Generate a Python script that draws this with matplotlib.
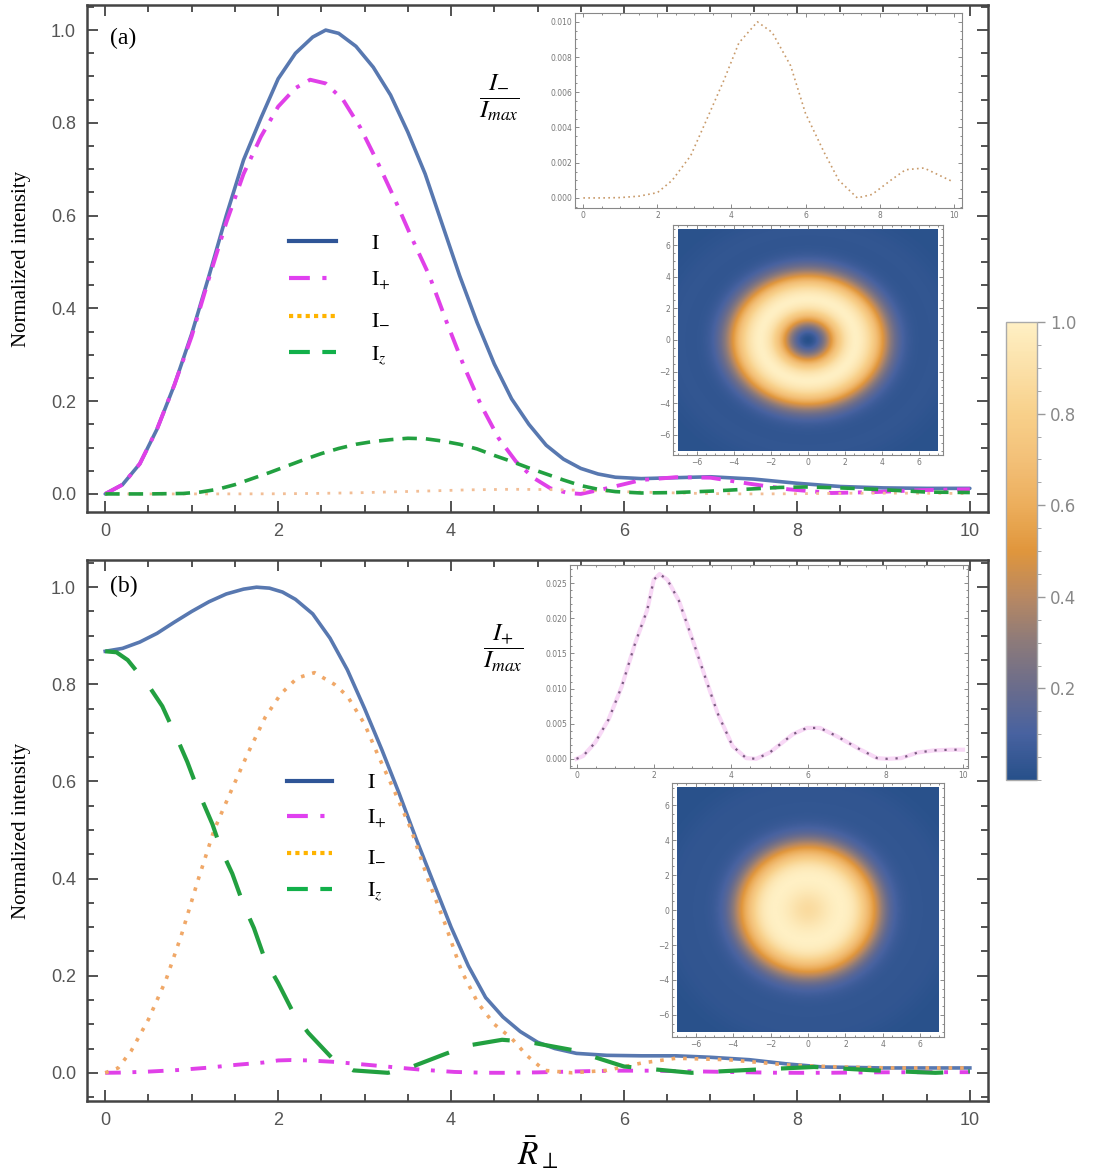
import numpy as np
import matplotlib
matplotlib.use('Agg')
import matplotlib.pyplot as plt
from matplotlib.colors import LinearSegmentedColormap
from matplotlib.lines import Line2D
from matplotlib.ticker import MultipleLocator, FormatStrFormatter

plt.rcParams['mathtext.fontset'] = 'stix'

# ---- panel (a) ----
xa_I = [0, 0.2, 0.4, 0.6, 0.8, 1.0, 1.2, 1.4, 1.6, 1.8, 2.0, 2.2, 2.4, 2.55, 2.7, 2.9, 3.1,
        3.3, 3.5, 3.7, 3.9, 4.1, 4.3, 4.5, 4.7, 4.9, 5.1, 5.3, 5.5, 5.7, 5.9, 6.2, 6.6, 7.0,
        7.5, 8.0, 8.5, 9.0, 9.5, 10.0]
Ia = [0.0, 0.02, 0.065, 0.14, 0.235, 0.345, 0.47, 0.60, 0.72, 0.81, 0.895, 0.95, 0.985, 1.0,
      0.993, 0.965, 0.92, 0.86, 0.78, 0.69, 0.58, 0.47, 0.37, 0.28, 0.205, 0.15, 0.105, 0.075,
      0.055, 0.043, 0.036, 0.033, 0.035, 0.037, 0.032, 0.023, 0.016, 0.013, 0.012, 0.012]

xa_p = [0, 0.2, 0.4, 0.6, 0.8, 1.0, 1.2, 1.4, 1.6, 1.8, 2.0, 2.2, 2.37, 2.55, 2.75, 2.95,
        3.15, 3.35, 3.55, 3.75, 3.95, 4.15, 4.35, 4.55, 4.75, 4.95, 5.15, 5.35, 5.5, 5.8, 6.2,
        6.6, 7.0, 7.45, 7.9, 8.4, 8.9, 9.4, 10.0]
Ia_plus = [0.0, 0.02, 0.065, 0.14, 0.235, 0.34, 0.465, 0.585, 0.69, 0.77, 0.835, 0.875, 0.893,
           0.885, 0.85, 0.79, 0.715, 0.635, 0.55, 0.47, 0.37, 0.275, 0.19, 0.12, 0.07, 0.035,
           0.012, 0.002, 0.0, 0.012, 0.03, 0.036, 0.035, 0.022, 0.01, 0.002, 0.004, 0.008, 0.01]

xa_m = [0, 0.5, 1.0, 1.5, 2.0, 2.4, 2.9, 3.3, 3.8, 4.2, 4.7, 5.1, 5.6, 6.0, 6.5, 6.9, 7.4,
        7.8, 8.3, 8.7, 9.2, 9.6, 10.0]
Ia_minus = [0.0, 0.0, 0.00002, 0.0001, 0.0003, 0.001, 0.0024, 0.0043, 0.0067, 0.0088, 0.0100,
            0.0094, 0.0075, 0.0048, 0.0026, 0.0010, 0.0000, 0.0002, 0.0010, 0.0016, 0.0017,
            0.0013, 0.0009]

xa_z = [0, 0.5, 0.9, 1.1, 1.3, 1.5, 1.7, 1.9, 2.1, 2.3, 2.5, 2.7, 2.9, 3.1, 3.3, 3.5, 3.7,
        3.9, 4.1, 4.3, 4.5, 4.7, 4.9, 5.1, 5.3, 5.5, 5.7, 5.9, 6.2, 6.6, 7.0, 7.4, 7.8, 8.1,
        8.5, 8.9, 9.5, 10.0]
Ia_z = [0.0, 0.0, 0.001, 0.004, 0.01, 0.02, 0.033, 0.046, 0.06, 0.074, 0.087, 0.098, 0.107,
        0.113, 0.117, 0.12, 0.119, 0.114, 0.107, 0.097, 0.083, 0.07, 0.056, 0.043, 0.03, 0.018,
        0.01, 0.005, 0.002, 0.003, 0.006, 0.01, 0.014, 0.015, 0.013, 0.01, 0.004, 0.003]

# ---- panel (b) ----
xb_I = [0, 0.2, 0.4, 0.6, 0.8, 1.0, 1.2, 1.4, 1.6, 1.75, 1.9, 2.05, 2.2, 2.4, 2.6, 2.8, 3.0,
        3.2, 3.4, 3.6, 3.8, 4.0, 4.2, 4.4, 4.6, 4.8, 5.0, 5.2, 5.45, 5.8, 6.2, 6.6, 7.0, 7.45,
        7.9, 8.3, 9.0, 10.0]
Ib = [0.868, 0.874, 0.887, 0.905, 0.928, 0.95, 0.97, 0.986, 0.996, 1.0, 0.998, 0.99, 0.975,
      0.945, 0.895, 0.83, 0.75, 0.665, 0.575, 0.48, 0.39, 0.30, 0.22, 0.155, 0.115, 0.085,
      0.063, 0.05, 0.04, 0.036, 0.035, 0.035, 0.032, 0.027, 0.018, 0.012, 0.01, 0.01]

xb_p = [0, 0.17, 0.48, 0.83, 1.17, 1.52, 1.83, 2.0, 2.15, 2.35, 2.65, 3.0, 3.35, 3.65, 4.04,
        4.39, 4.65, 5.0, 5.6, 5.96, 6.3, 6.74, 7.35, 7.78, 8.04, 8.4, 8.83, 9.26, 9.7, 10.0]
Ib_plus = [0.0, 0.0004, 0.0023, 0.0056, 0.0103, 0.0165, 0.0212, 0.0255, 0.0263, 0.0255, 0.0225,
           0.017, 0.0113, 0.0065, 0.0018, 0.0001, 0.0, 0.0009, 0.0035, 0.0044, 0.0044, 0.0032,
           0.0013, 0.0001, 0.0, 0.0001, 0.0009, 0.0012, 0.0013, 0.0013]

xb_m = [0, 0.15, 0.3, 0.5, 0.7, 0.88, 1.07, 1.26, 1.45, 1.65, 1.85, 2.03, 2.22, 2.42, 2.65, 2.8,
        3.0, 3.16, 3.35, 3.54, 3.74, 3.93, 4.12, 4.31, 4.5, 4.7, 4.88, 5.08, 5.4, 5.8, 6.2, 6.6,
        7.2, 7.9, 8.5, 9.1, 10.0]
Ib_minus = [0.0, 0.01, 0.045, 0.11, 0.19, 0.283, 0.395, 0.50, 0.578, 0.658, 0.732, 0.78, 0.813,
            0.824, 0.80, 0.776, 0.718, 0.652, 0.578, 0.50, 0.395, 0.307, 0.21, 0.144, 0.10,
            0.071, 0.035, 0.005, 0.0, 0.005, 0.02, 0.03, 0.027, 0.016, 0.012, 0.01, 0.01]

xb_z = [0, 0.13, 0.26, 0.51, 0.66, 0.84, 0.95, 1.09, 1.24, 1.34, 1.47, 1.6, 1.72, 1.85, 2.0,
        2.18, 2.35, 2.62, 2.87, 3.27, 3.54, 3.92, 4.19, 4.59, 4.88, 5.4, 6.0, 6.78, 7.45, 8.2,
        8.9, 9.6, 10.0]
Ib_z = [0.868, 0.866, 0.85, 0.795, 0.755, 0.685, 0.64, 0.574, 0.512, 0.46, 0.41, 0.346, 0.298,
        0.232, 0.185, 0.122, 0.082, 0.031, 0.005, 0.0, 0.012, 0.038, 0.056, 0.068, 0.064, 0.047,
        0.013, 0.0, 0.006, 0.012, 0.005, 0.0, 0.003]

# colour scale of the density insets
cmap_colors = ['#27508a', '#4862a0', '#6a6c8c', '#8c7a7a', '#b88862', '#e0963c',
               '#ecae5c', '#f3c078', '#f8d08a', '#fbe0a8', '#fff0c4']
cmap = LinearSegmentedColormap.from_list('sunset', cmap_colors)

c_blue = '#5878b0'
c_mag = '#e040e8'
c_orange = '#f0a868'
c_green = '#22a040'
gray = '#555555'

fig = plt.figure(figsize=(10.95, 11.73), dpi=100)


def style_main(ax, ylim):
    ax.set_xlim(-0.21, 10.21)
    ax.set_ylim(*ylim)
    ax.xaxis.set_major_locator(MultipleLocator(2))
    ax.xaxis.set_minor_locator(MultipleLocator(0.5))
    ax.yaxis.set_major_locator(MultipleLocator(0.2))
    ax.yaxis.set_minor_locator(MultipleLocator(0.05))
    ax.tick_params(which='both', direction='in', top=True, right=True, colors='#444444',
                   labelcolor=gray, labelsize=13, width=1.3)
    ax.tick_params(which='major', length=8, pad=8)
    ax.tick_params(which='minor', length=5)
    for lab in ax.get_xticklabels() + ax.get_yticklabels():
        lab.set_fontfamily('Liberation Sans')
    ax.yaxis.set_major_formatter(FormatStrFormatter('%.1f'))
    for s in ax.spines.values():
        s.set_color('#444444')
        s.set_linewidth(1.8)
    ax.set_ylabel('Normalized intensity', family='Liberation Serif', fontsize=15, labelpad=14)


def style_inset(ax):
    ax.tick_params(which='both', direction='in', top=True, right=True, colors='#777777',
                   labelcolor='#777777', labelsize=5.5, width=0.6, pad=2)
    ax.tick_params(which='major', length=3)
    ax.tick_params(which='minor', length=1.5)
    for s in ax.spines.values():
        s.set_color('#888888')
        s.set_linewidth(0.8)


def draw_density(ax, xs, vals):
    g = np.linspace(-7, 7, 400)
    X, Y = np.meshgrid(g, g)
    R = np.sqrt(X ** 2 + Y ** 2)
    Z = np.interp(R, xs, vals)
    ax.imshow(Z, cmap=cmap, vmin=0, vmax=1, extent=[-7, 7, -7, 7], origin='lower',
              aspect='auto', interpolation='bilinear')
    ax.set_xlim(-7.27, 7.27)
    ax.set_ylim(-7.27, 7.27)
    ax.xaxis.set_major_locator(MultipleLocator(2))
    ax.yaxis.set_major_locator(MultipleLocator(2))
    ax.xaxis.set_minor_locator(MultipleLocator(0.5))
    ax.yaxis.set_minor_locator(MultipleLocator(0.5))
    style_inset(ax)


legend_handles = [
    Line2D([], [], color='#2f5597', lw=3),
    Line2D([], [], color='#e040f0', lw=3, ls=(0, (5, 3, 1, 3))),
    Line2D([], [], color='#ffb400', lw=3, ls=(0, (1, 1))),
    Line2D([], [], color='#12b04a', lw=3, ls=(0, (5, 3))),
]
legend_labels = [r'$\mathrm{I}$', r'$\mathrm{I}_{+}$', r'$\mathrm{I}_{-}$', r'$\mathrm{I}_{z}$']

# ---------------- panel (a) ----------------
axa = fig.add_axes([0.0795, 0.5635, 0.8228, 0.4322])
axa.plot(xa_I, Ia, color=c_blue, lw=2.6, solid_capstyle='round')
axa.plot(xa_p, Ia_plus, color=c_mag, lw=2.8, ls=(0, (5, 2.5, 1, 2.5)))
axa.plot(xa_m, Ia_minus, color='#f2be96', lw=2.0, ls=(0, (1, 3)))
axa.plot(xa_z, Ia_z, color=c_green, lw=2.6, ls=(0, (4, 2.5)))
style_main(axa, (-0.039, 1.054))
axa.text(0.026, 0.935, '(a)', transform=axa.transAxes, family='Liberation Serif', fontsize=17,
         va='center')
axa.legend(legend_handles, legend_labels, loc='upper left', bbox_to_anchor=(0.212, 0.572),
           frameon=False, borderpad=0, handlelength=2.1, handletextpad=1.6, labelspacing=0.72,
           prop={'size': 16})
axa.text(0.458, 0.818, r'$\dfrac{I_{-}}{I_{max}}$', transform=axa.transAxes, fontsize=18,
         ha='center', va='center')

insa = fig.add_axes([0.5251, 0.8227, 0.3534, 0.1662])
insa.plot(xa_m, Ia_minus, color='#c89a6a', lw=1.2, ls=(0, (1, 2)))
insa.set_xlim(-0.225, 10.225)
insa.set_ylim(-0.00057, 0.0105)
insa.xaxis.set_major_locator(MultipleLocator(2))
insa.xaxis.set_minor_locator(MultipleLocator(0.5))
insa.yaxis.set_major_locator(MultipleLocator(0.002))
insa.yaxis.set_minor_locator(MultipleLocator(0.0005))
insa.yaxis.set_major_formatter(FormatStrFormatter('%.3f'))
style_inset(insa)

imga = fig.add_axes([0.6146, 0.6121, 0.2466, 0.1961])
draw_density(imga, xa_I, Ia)

# ---------------- panel (b) ----------------
axb = fig.add_axes([0.0795, 0.0614, 0.8228, 0.4612])
axb.plot(xb_I, Ib, color=c_blue, lw=2.6)
axb.plot(xb_p, Ib_plus, color=c_mag, lw=2.8, ls=(0, (4, 3, 1, 3)))
axb.plot(xb_m, Ib_minus, color=c_orange, lw=2.6, ls=(0, (1, 2.2)))
axb.plot(xb_z, Ib_z, color=c_green, lw=3.0, ls=(0, (9, 6)))
style_main(axb, (-0.058, 1.056))
axb.text(0.026, 0.951, '(b)', transform=axb.transAxes, family='Liberation Serif', fontsize=17,
         va='center')
axb.legend(legend_handles, legend_labels, loc='upper left', bbox_to_anchor=(0.21, 0.628),
           frameon=False, borderpad=0, handlelength=2.0, handletextpad=1.6, labelspacing=0.68,
           prop={'size': 16})
axb.text(0.462, 0.837, r'$\dfrac{I_{+}}{I_{max}}$', transform=axb.transAxes, fontsize=18,
         ha='center', va='center')
axb.set_xlabel(r'$\bar{R}_{\perp}$', fontsize=24, labelpad=4)

insb = fig.add_axes([0.5205, 0.3453, 0.3635, 0.1731])
insb.plot(xb_p, Ib_plus, color='#f4c0f0', lw=3.0, alpha=0.6)
insb.plot(xb_p, Ib_plus, color='#7a5a80', lw=1.6, ls=(0, (1, 3.5)))
insb.set_xlim(-0.17, 10.13)
insb.set_ylim(-0.0013, 0.0276)
insb.xaxis.set_major_locator(MultipleLocator(2))
insb.xaxis.set_minor_locator(MultipleLocator(0.5))
insb.yaxis.set_major_locator(MultipleLocator(0.005))
insb.yaxis.set_minor_locator(MultipleLocator(0.001))
insb.yaxis.set_major_formatter(FormatStrFormatter('%.3f'))
style_inset(insb)

imgb = fig.add_axes([0.6137, 0.1159, 0.2484, 0.2165])
draw_density(imgb, xb_I, Ib)

# ---------------- colour bar ----------------
cax = fig.add_axes([0.9187, 0.335, 0.0283, 0.3905])
sm = matplotlib.cm.ScalarMappable(cmap=cmap, norm=matplotlib.colors.Normalize(0, 1))
cb = fig.colorbar(sm, cax=cax)
cb.set_ticks([0.2, 0.4, 0.6, 0.8, 1.0])
cb.ax.yaxis.set_minor_locator(MultipleLocator(0.05))
cb.ax.tick_params(which='major', length=6, colors='#999999', labelcolor='#888888',
                  labelsize=12, width=1)
cb.ax.tick_params(which='minor', length=3, colors='#999999')
cb.outline.set_edgecolor('#aaaaaa')
cb.outline.set_linewidth(1.0)

fig.savefig('out.png', dpi=100)
